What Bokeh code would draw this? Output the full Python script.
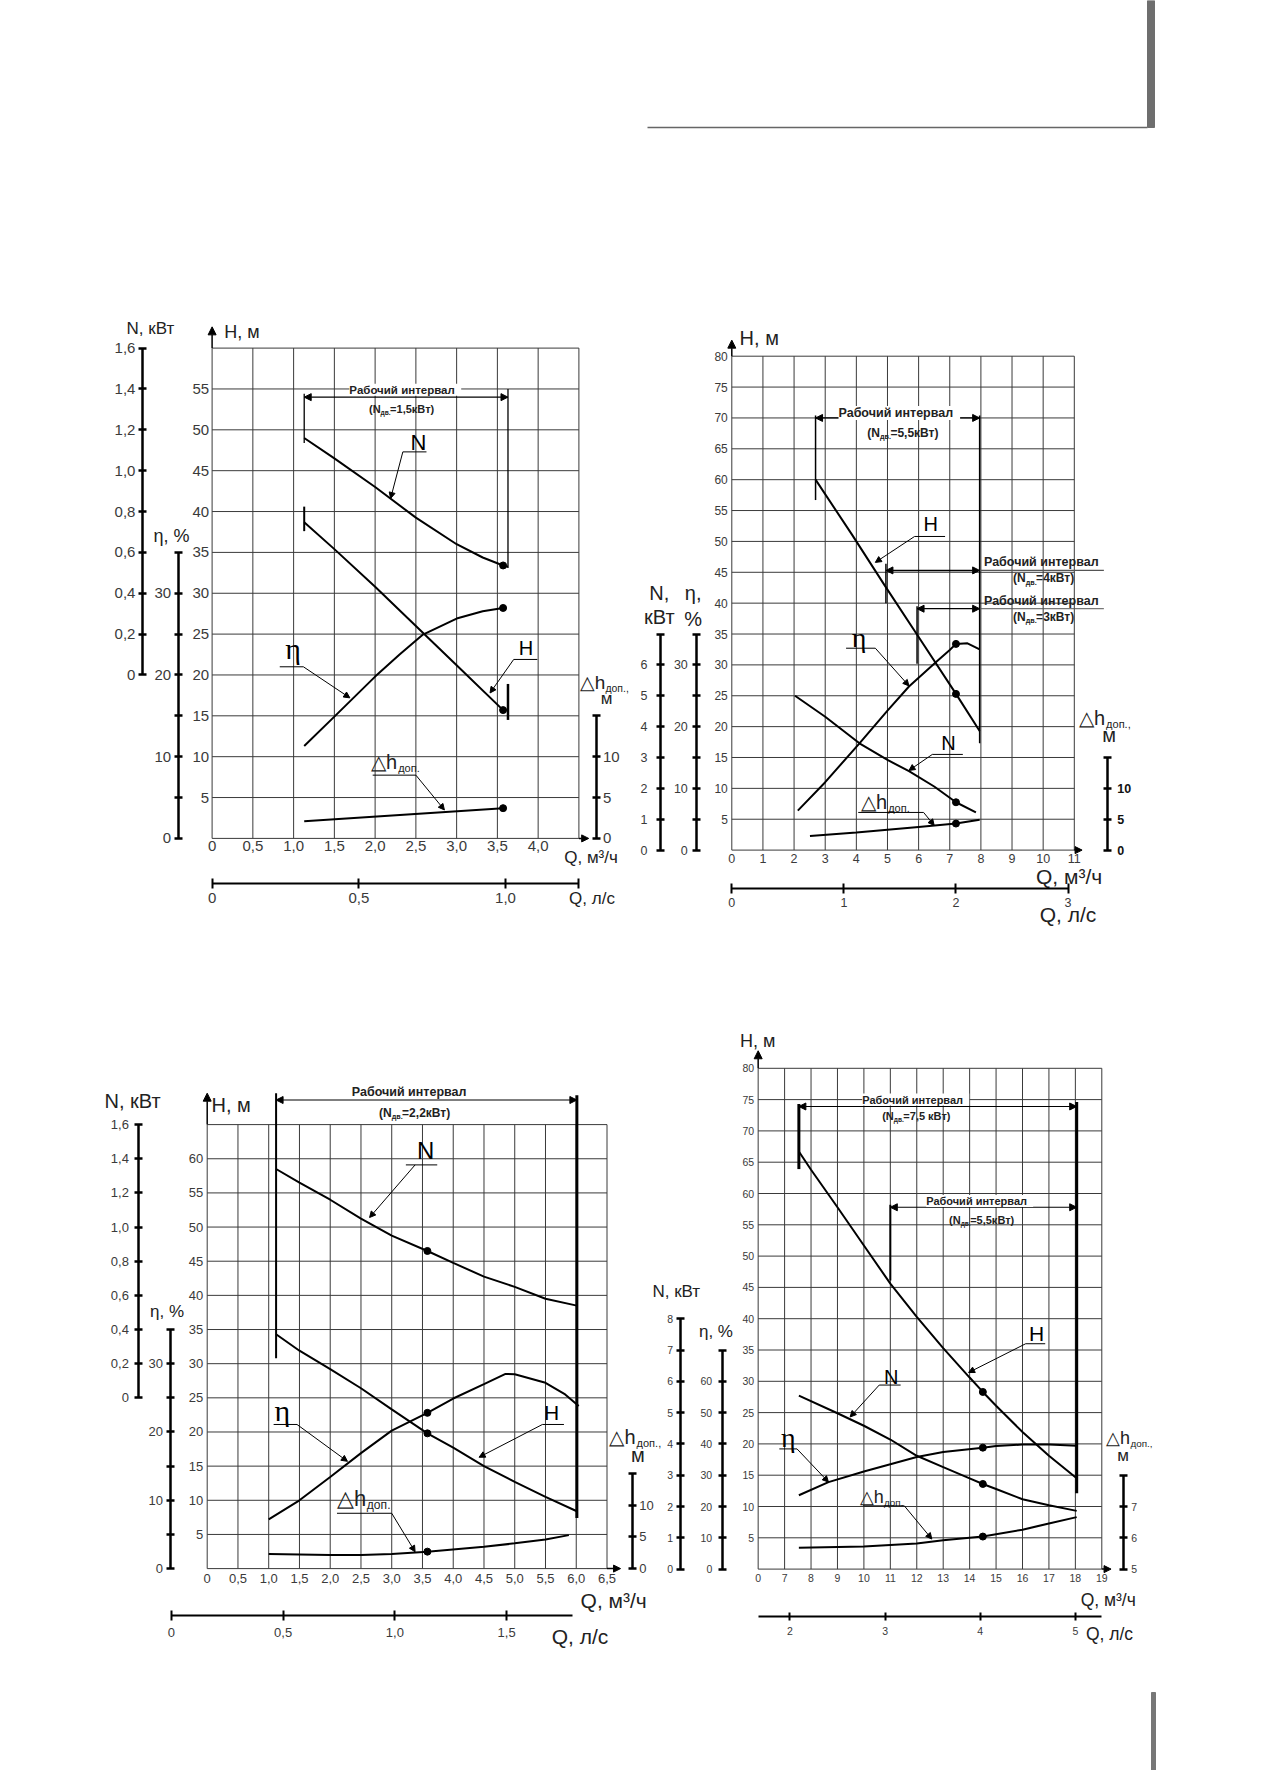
import json
from bokeh.plotting import figure
from bokeh.models import (Range1d, LinearAxis, FixedTicker, CustomJSTickFormatter,
                          Arrow, NormalHead, Label, Grid)
from bokeh.core.properties import value
from bokeh.embed import file_html
from bokeh.resources import INLINE

# ---------------------------------------------------------------- data
# Panel 1 (N дв = 1,5 кВт)
P1_Q_N = [1.13, 1.5, 2.0, 2.5, 3.0, 3.32, 3.57, 3.63]
P1_N = [1.16, 1.06, 0.92, 0.77, 0.64, 0.575, 0.536, 0.53]
P1_Q_H = [1.13, 1.5, 2.0, 2.5, 3.0, 3.57]
P1_H = [38.7, 35.4, 30.8, 26.0, 21.2, 15.7]
P1_Q_ETA = [1.13, 1.5, 2.0, 2.3, 2.58, 3.0, 3.32, 3.57]
P1_ETA = [11.3, 14.9, 19.8, 22.5, 24.9, 26.9, 27.8, 28.2]
P1_Q_DH = [1.13, 2.35, 3.57]
P1_DH = [2.1, 2.9, 3.7]
P1_Q_OPT = 3.57
P1_GRID_Q = [0, 0.5, 1.0, 1.5, 2.0, 2.5, 3.0, 3.5, 4.0, 4.5]
P1_GRID_H = [0, 5, 10, 15, 20, 25, 30, 35, 40, 45, 50, 55, 60]
P1_H_TICKS = [5, 10, 15, 20, 25, 30, 35, 40, 45, 50, 55]
P1_H_LABELS = ["5", "10", "15", "20", "25", "30", "35", "40", "45", "50", "55"]
P1_Q_TICKS = [0, 0.5, 1.0, 1.5, 2.0, 2.5, 3.0, 3.5, 4.0]
P1_Q_LABELS = ["0", "0,5", "1,0", "1,5", "2,0", "2,5", "3,0", "3,5", "4,0"]
P1_N_TICKS = [0, 0.2, 0.4, 0.6, 0.8, 1.0, 1.2, 1.4, 1.6]
P1_N_LABELS = ["0", "0,2", "0,4", "0,6", "0,8", "1,0", "1,2", "1,4", "1,6"]
P1_E_TICKS = [0, 5, 10, 15, 20, 25, 30, 35]
P1_E_LABELS = ["0", "", "10", "", "20", "", "30", ""]
P1_D_TICKS = [0, 5, 10, 15]
P1_D_LABELS = ["0", "5", "10", ""]
P1_L_TICKS = [0, 0.5, 1.0, 1.25]
P1_L_LABELS = ["0", "0,5", "1,0", ""]

# Panel 2 (N дв = 5,5 / 4 / 3 кВт)
P2_Q_H = [2.69, 3.86, 4.92, 5.99, 7.2, 7.96]
P2_H = [60.0, 51.1, 42.8, 34.6, 25.3, 19.3]
P2_Q_ETA = [2.12, 3.0, 4.1, 5.0, 5.69, 6.57, 7.0, 7.2, 7.57, 7.96]
P2_ETA = [6.4, 11.0, 17.3, 22.6, 26.5, 30.5, 32.4, 33.4, 33.5, 32.5]
P2_Q_N = [2.03, 3.0, 4.1, 5.0, 5.69, 6.5, 7.2, 7.84]
P2_N = [5.0, 4.32, 3.46, 2.92, 2.56, 2.06, 1.55, 1.22]
P2_Q_DH = [2.51, 4.0, 6.0, 7.2, 7.96]
P2_DH = [2.3, 2.85, 3.75, 4.3, 4.9]
P2_Q_OPT = 7.2
P2_GRID_Q = [0, 1, 2, 3, 4, 5, 6, 7, 8, 9, 10, 11]
P2_GRID_H = [0, 5, 10, 15, 20, 25, 30, 35, 40, 45, 50, 55, 60, 65, 70, 75, 80]
P2_H_TICKS = [5, 10, 15, 20, 25, 30, 35, 40, 45, 50, 55, 60, 65, 70, 75, 80]
P2_H_LABELS = [str(v) for v in P2_H_TICKS]
P2_Q_TICKS = [0, 1, 2, 3, 4, 5, 6, 7, 8, 9, 10, 11]
P2_Q_LABELS = [str(v) for v in P2_Q_TICKS]
P2_N_TICKS = [0, 1, 2, 3, 4, 5, 6, 7]
P2_N_LABELS = ["0", "1", "2", "3", "4", "5", "6", ""]
P2_E_TICKS = [0, 5, 10, 15, 20, 25, 30, 35]
P2_E_LABELS = ["0", "", "10", "", "20", "", "30", ""]
P2_D_TICKS = [0, 5, 10, 15]
P2_D_LABELS = ["0", "5", "10", ""]
P2_L_TICKS = [0, 1, 2, 3]
P2_L_LABELS = ["0", "1", "2", "3"]

# Panel 3 (N дв = 2,2 кВт)
P3_Q_N = [1.12, 1.5, 2.0, 2.5, 3.0, 3.58, 4.0, 4.5, 5.0, 5.5, 6.01]
P3_N = [1.34, 1.26, 1.16, 1.05, 0.95, 0.86, 0.79, 0.71, 0.65, 0.58, 0.54]
P3_Q_ETA = [1.0, 1.5, 2.0, 2.5, 3.0, 3.58, 4.0, 4.5, 4.85, 5.0, 5.5, 5.82, 6.04]
P3_ETA = [7.2, 10.0, 13.4, 16.9, 20.2, 22.8, 24.9, 27.0, 28.5, 28.45, 27.2, 25.5, 23.8]
P3_Q_H = [1.12, 1.5, 2.0, 2.5, 3.0, 3.58, 4.0, 4.5, 5.0, 5.5, 6.01]
P3_H = [34.3, 31.9, 29.2, 26.4, 23.3, 19.8, 17.7, 15.0, 12.7, 10.5, 8.4]
P3_Q_DH = [1.0, 2.0, 2.5, 3.0, 3.58, 4.5, 5.0, 5.5, 5.88]
P3_DH = [2.31, 2.14, 2.16, 2.32, 2.68, 3.45, 3.99, 4.59, 5.29]
P3_Q_OPT = 3.58
P3_GRID_Q = [0, 0.5, 1.0, 1.5, 2.0, 2.5, 3.0, 3.5, 4.0, 4.5, 5.0, 5.5, 6.0, 6.5]
P3_GRID_H = [0, 5, 10, 15, 20, 25, 30, 35, 40, 45, 50, 55, 60, 65]
P3_H_TICKS = [5, 10, 15, 20, 25, 30, 35, 40, 45, 50, 55, 60]
P3_H_LABELS = [str(v) for v in P3_H_TICKS]
P3_Q_TICKS = [0, 0.5, 1.0, 1.5, 2.0, 2.5, 3.0, 3.5, 4.0, 4.5, 5.0, 5.5, 6.0, 6.5]
P3_Q_LABELS = ["0", "0,5", "1,0", "1,5", "2,0", "2,5", "3,0", "3,5", "4,0", "4,5",
               "5,0", "5,5", "6,0", "6,5"]
P3_N_TICKS = [0, 0.2, 0.4, 0.6, 0.8, 1.0, 1.2, 1.4, 1.6]
P3_N_LABELS = ["0", "0,2", "0,4", "0,6", "0,8", "1,0", "1,2", "1,4", "1,6"]
P3_E_TICKS = [0, 5, 10, 15, 20, 25, 30, 35]
P3_E_LABELS = ["0", "", "10", "", "20", "", "30", ""]
P3_D_TICKS = [0, 5, 10, 15]
P3_D_LABELS = ["0", "5", "10", ""]
P3_L_TICKS = [0, 0.5, 1.0, 1.5]
P3_L_LABELS = ["0", "0,5", "1,0", "1,5"]

# Panel 4 (N дв = 7,5 / 5,5 кВт)
P4_Q_H = [7.54, 8, 9, 10, 11, 12, 13, 14, 14.5, 15, 16, 17, 18.05]
P4_H = [66.7, 63.8, 57.8, 51.7, 45.6, 40.3, 35.3, 30.6, 28.3, 26.1, 21.9, 18.1, 14.5]
P4_Q_N = [7.54, 9, 10, 11, 12, 13, 14, 14.5, 15, 16, 17, 18.05]
P4_N = [5.54, 4.98, 4.58, 4.14, 3.62, 3.26, 2.90, 2.72, 2.56, 2.23, 2.04, 1.86]
P4_Q_ETA = [7.54, 8.66, 10, 11, 12, 13, 14.5, 15, 16, 17, 18.05]
P4_ETA = [23.6, 27.8, 31.2, 33.5, 35.8, 37.4, 38.8, 39.3, 39.8, 39.8, 39.4]
P4_Q_DH = [7.54, 10, 12, 13, 14.5, 16, 17, 18.05]
P4_DH = [5.68, 5.72, 5.82, 5.92, 6.04, 6.26, 6.46, 6.66]
P4_Q_OPT = 14.5
P4_GRID_Q = [6, 7, 8, 9, 10, 11, 12, 13, 14, 15, 16, 17, 18, 19]
P4_GRID_H = [0, 5, 10, 15, 20, 25, 30, 35, 40, 45, 50, 55, 60, 65, 70, 75, 80]
P4_H_TICKS = [5, 10, 15, 20, 25, 30, 35, 40, 45, 50, 55, 60, 65, 70, 75, 80]
P4_H_LABELS = [str(v) for v in P4_H_TICKS]
P4_Q_TICKS = [6, 7, 8, 9, 10, 11, 12, 13, 14, 15, 16, 17, 18, 19]
P4_Q_LABELS = ["0", "7", "8", "9", "10", "11", "12", "13", "14", "15", "16", "17", "18", "19"]
P4_N_TICKS = [0, 1, 2, 3, 4, 5, 6, 7, 8]
P4_N_LABELS = [str(v) for v in P4_N_TICKS]
P4_E_TICKS = [0, 10, 20, 30, 40, 50, 60, 70]
P4_E_LABELS = ["0", "10", "20", "30", "40", "50", "60", ""]
P4_D_TICKS = [5, 6, 7, 8]
P4_D_LABELS = ["5", "6", "7", ""]
P4_L_TICKS = [2, 3, 4, 5]
P4_L_LABELS = ["2", "3", "4", "5"]

# ---------------------------------------------------------------- page / figure
CW, CH = 1258, 1770
PX0, PX1 = 8, 8 + CW
PY0, PY1 = 8, 8 + CH
FONT = "Liberation Sans"
SERIF = "Liberation Serif"
GRID_C = "#3a3a3a"
TICK_C = "#3a3a3a"
TITLE_C = "#222222"

p = figure(width=CW, height=CH, output_backend="svg", toolbar_location=None,
           x_range=Range1d(PX0, PX1), y_range=Range1d(PY1, PY0),
           x_axis_location=None, y_axis_location=None, min_border=0)
p.outline_line_color = None
p.background_fill_color = "white"
p.border_fill_color = "white"
p.renderers = [r for r in p.renderers if not isinstance(r, Grid)]
p.center = [r for r in p.center if not isinstance(r, Grid)]


class Panel:
    def __init__(self, key, qa, qb, ha, hb):
        (q0, X0), (q1, X1) = qa, qb
        sx = (X1 - X0) / (q1 - q0)
        (h0, Y0), (h1, Y1) = ha, hb
        sy = (Y1 - Y0) / (h1 - h0)
        self.qs = q0 + (PX0 - X0) / sx
        self.qe = q0 + (PX1 - X0) / sx
        self.hs = h0 + (PY1 - Y0) / sy
        self.he = h0 + (PY0 - Y0) / sy
        self.key = key
        self.xr = key + "x"
        self.yr = key + "y"
        p.extra_x_ranges[self.xr] = Range1d(self.qs, self.qe)
        p.extra_y_ranges[self.yr] = Range1d(self.hs, self.he)

    def yscale(self, name, a, b):
        rn = self.key + name
        p.extra_y_ranges[rn] = Range1d(a + b * self.hs, a + b * self.he)
        return rn

    def xscale(self, name, c, k):
        rn = self.key + name
        p.extra_x_ranges[rn] = Range1d((self.qs - c) / k, (self.qe - c) / k)
        return rn


def fmt(ticks, labels):
    m = {f"{t:.3f}": l for t, l in zip(ticks, labels)}
    code = ("var m = %s; var k = tick.toFixed(3); return (k in m) ? m[k] : '';"
            % json.dumps(m))
    return CustomJSTickFormatter(code=code)


def add_axis(side, xr, yr, loc, ticks, labels, bounds=None, fs=13, standoff=4,
             tin=0, tout=0, line_w=0, bold=False, color=TICK_C):
    kw = {}
    if bounds is not None:
        kw["bounds"] = bounds
    ax = LinearAxis(x_range_name=xr, y_range_name=yr, fixed_location=loc,
                    ticker=FixedTicker(ticks=ticks), formatter=fmt(ticks, labels),
                    major_tick_in=tin, major_tick_out=tout,
                    minor_tick_line_color=None, major_label_standoff=standoff,
                    major_label_text_font=FONT, major_label_text_font_size=f"{fs}px",
                    major_label_text_color=color,
                    major_label_text_font_style="bold" if bold else "normal", **kw)
    if line_w:
        ax.axis_line_width = line_w
        ax.axis_line_color = "black"
        ax.major_tick_line_width = line_w
        ax.major_tick_line_color = "black"
    else:
        ax.axis_line_color = None
    if tin == 0 and tout == 0:
        ax.major_tick_line_color = None
    p.add_layout(ax, side)


def txt(pn, x, y, s, fs, align="left", base="middle", font=FONT, bold=False,
        color=TITLE_C, xoff=0, yoff=0):
    p.text(x=[x], y=[y], text=[s], x_range_name=pn.xr, y_range_name=pn.yr,
           text_font=value(font), text_font_size=f"{fs}px", text_align=align,
           text_baseline=base, text_color=color,
           text_font_style="bold" if bold else "normal", x_offset=xoff, y_offset=yoff)


REG_W = {'△': 0.80, 'h': 0.556, 'д': 0.59, 'о': 0.556, 'п': 0.55, '.': 0.278, ',': 0.278}
BOLD_W = {'(': 0.333, ')': 0.333, 'N': 0.722, '=': 0.584, ',': 0.278, '.': 0.278,
          ' ': 0.278, 'к': 0.556, 'В': 0.722, 'т': 0.5, 'д': 0.61, 'в': 0.556}


def est(t, bold):
    tab = BOLD_W if bold else REG_W
    return sum(tab.get(ch, 0.556) for ch in t)


def rich(pn, x, y, parts, align="center", color=TITLE_C):
    ws = [est(t, b) * fs for (t, fs, b, dy) in parts]
    off = -sum(ws) / 2 if align == "center" else 0
    for (t, fs, b, dy), w in zip(parts, ws):
        txt(pn, x, y, t, fs, bold=b, color=color, xoff=off, yoff=dy)
        off += w


def motor(pn, x, y, rest, fs):
    rich(pn, x, y, [("(N", fs, True, 0), ("дв.", fs * 0.6, True, fs * 0.3),
                    (rest, fs, True, 0)])


def dh_text(pn, x, y, fs, sub="доп."):
    rich(pn, x, y, [("△h", fs, False, 0), (sub, fs * 0.55, False, fs * 0.3)], align="left")


def seg(pn, x0, y0, x1, y1, lw=1.0, color="black"):
    p.segment(x0=[x0], y0=[y0], x1=[x1], y1=[y1], x_range_name=pn.xr,
              y_range_name=pn.yr, line_width=lw, line_color=color)


def arrow(pn, x0, y0, x1, y1, both=False, size=8, lw=1.2):
    kw = dict(end=NormalHead(size=size, fill_color="black", line_color="black", line_width=1))
    if both:
        kw["start"] = NormalHead(size=size, fill_color="black", line_color="black", line_width=1)
    p.add_layout(Arrow(x_start=x0, y_start=y0, x_end=x1, y_end=y1, x_range_name=pn.xr,
                       y_range_name=pn.yr, line_width=lw, line_color="black", **kw))


def blabel(pn, x, y, s, fs):
    p.add_layout(Label(x=x, y=y, x_range_name=pn.xr, y_range_name=pn.yr, text=" " + s + " ",
                       text_font=FONT, text_font_size=f"{fs}px", text_font_style="bold",
                       text_align="center", text_baseline="middle", text_color=TITLE_C,
                       background_fill_color="white"))


def grid(pn, qs, hs, lw=1.0):
    n, m = len(qs), len(hs)
    p.segment(x0=qs, y0=[hs[0]] * n, x1=qs, y1=[hs[-1]] * n, x_range_name=pn.xr,
              y_range_name=pn.yr, line_color=GRID_C, line_width=lw)
    p.segment(x0=[qs[0]] * m, y0=hs, x1=[qs[-1]] * m, y1=hs, x_range_name=pn.xr,
              y_range_name=pn.yr, line_color=GRID_C, line_width=lw)


def curve(pn, yr, xs, ys, q_opt=None, lw=2.0):
    p.line(xs, ys, x_range_name=pn.xr, y_range_name=yr, line_width=lw, line_color="black")
    if q_opt is not None:
        d = dict(zip(xs, ys))
        p.scatter(x=[q_opt], y=[d[q_opt]], x_range_name=pn.xr, y_range_name=yr,
                  size=7, color="black")


def leader(pn, label, lx, ly, fs, u0, u1, uy, a0x, a0y, a1x, a1y, font=FONT):
    txt(pn, lx, ly, label, fs, align="center", font=font, color="black")
    seg(pn, u0, uy, u1, uy, lw=1.0)
    arrow(pn, a0x, a0y, a1x, a1y, size=6, lw=1.0)


# ---------------------------------------------------------------- page decorations
p.segment(x0=[655], y0=[135], x1=[1155], y1=[135], line_color="#666666", line_width=1.5)
p.quad(left=[1155], right=[1162], top=[PY0], bottom=[135], color="#6e6e6e")
p.quad(left=[1159], right=[1163], top=[1700], bottom=[PY1], color="#777777")

# ================================================================ Panel 1
P1 = Panel("a", (0, 219.6), (4.5, 586.4), (0, 845.9), (60, 355.6))
n1 = P1.yscale("n", -0.8, 0.04)
e1 = P1.yscale("e", 0, 1)
d1 = P1.yscale("d", 0, 1)
l1 = P1.xscale("l", 0, 3.6)
grid(P1, P1_GRID_Q, P1_GRID_H)
add_axis("left", P1.xr, P1.yr, 0, P1_H_TICKS, P1_H_LABELS, fs=15, standoff=3)
add_axis("below", P1.xr, P1.yr, 0, P1_Q_TICKS, P1_Q_LABELS, fs=15, standoff=3)
add_axis("left", P1.xr, n1, -0.855, P1_N_TICKS, P1_N_LABELS, bounds=(0, 1.6), fs=15,
         standoff=3, tin=4, tout=4, line_w=2.5)
add_axis("left", P1.xr, e1, -0.416, P1_E_TICKS, P1_E_LABELS, bounds=(0, 35), fs=15,
         standoff=3, tin=4, tout=4, line_w=2.5)
add_axis("right", P1.xr, d1, 4.71, P1_D_TICKS, P1_D_LABELS, bounds=(0, 15), fs=15,
         standoff=3, tin=4, tout=4, line_w=2.5)
add_axis("below", l1, P1.yr, -5.56, P1_L_TICKS, P1_L_LABELS, bounds=(0, 1.25), fs=15,
         standoff=4, tin=5, tout=5, line_w=2)
arrow(P1, 0, 60, 0, 62.6, size=8, lw=1.5)
arrow(P1, 4.5, 0, 4.62, 0, size=7, lw=1.5)
txt(P1, -1.05, 62.4, "N, кВт", 17)
txt(P1, 0.15, 62.0, "H, м", 18)
txt(P1, -0.72, 37.0, "η, %", 18)
txt(P1, 4.32, -2.3, "Q, м³/ч", 17)
txt(P1, 4.38, -7.3, "Q, л/с", 17)
dh_text(P1, 4.51, 19.1, 19, sub="доп.,")
txt(P1, 4.84, 17.1, "м", 17, align="center")
# working interval
seg(P1, 1.13, 54.4, 1.13, 48.4, lw=1.3)
seg(P1, 1.13, 40.6, 1.13, 37.6, lw=2.0)
seg(P1, 3.63, 55.0, 3.63, 33.1, lw=1.3)
seg(P1, 3.63, 18.9, 3.63, 14.5, lw=2.5)
arrow(P1, 1.13, 54.0, 3.63, 54.0, both=True, size=7, lw=1.2)
blabel(P1, 2.37, 54.9, "Рабочий интервал", 11.5)
motor(P1, 2.33, 52.5, "=1,5кВт)", 11)
# curves
curve(P1, n1, P1_Q_N, P1_N, P1_Q_OPT)
curve(P1, P1.yr, P1_Q_H, P1_H, P1_Q_OPT)
curve(P1, e1, P1_Q_ETA, P1_ETA, P1_Q_OPT)
curve(P1, d1, P1_Q_DH, P1_DH, P1_Q_OPT)
leader(P1, "N", 2.53, 48.5, 22, 2.34, 2.63, 47.3, 2.34, 47.3, 2.19, 41.6)
leader(P1, "H", 3.85, 23.3, 20, 3.70, 3.99, 21.9, 3.70, 21.9, 3.41, 17.8)
leader(P1, "η", 0.995, 23.3, 30, 0.83, 1.12, 21.0, 1.12, 21.0, 1.69, 17.2, font=SERIF)
dh_text(P1, 1.95, 9.3, 20)
seg(P1, 1.97, 7.74, 2.50, 7.74)
arrow(P1, 2.50, 7.74, 2.85, 3.48, size=6, lw=1.0)

# ================================================================ Panel 2
P2 = Panel("b", (0, 739.3), (11, 1081.8), (0, 857.6), (80, 363.7))
n2 = P2.yscale("n", 0, 0.2)
e2 = P2.yscale("e", 0, 1)
d2 = P2.yscale("d", 0, 1)
l2 = P2.xscale("l", 0, 3.6)
grid(P2, P2_GRID_Q, P2_GRID_H)
add_axis("left", P2.xr, P2.yr, 0, P2_H_TICKS, P2_H_LABELS, fs=12, standoff=4)
add_axis("below", P2.xr, P2.yr, 0, P2_Q_TICKS, P2_Q_LABELS, fs=12.5, standoff=4)
add_axis("left", P2.xr, n2, -2.29, P2_N_TICKS, P2_N_LABELS, bounds=(0, 7), fs=12.5,
         standoff=9, tin=4, tout=4, line_w=2.5)
add_axis("left", P2.xr, e2, -1.124, P2_E_TICKS, P2_E_LABELS, bounds=(0, 35), fs=12.5,
         standoff=5, tin=4, tout=4, line_w=2.5)
add_axis("right", P2.xr, d2, 12.06, P2_D_TICKS, P2_D_LABELS, bounds=(0, 15), fs=12.5,
         standoff=6, tin=4, tout=4, line_w=2.5, bold=True, color="#111111")
add_axis("below", l2, P2.yr, -6.28, P2_L_TICKS, P2_L_LABELS, bounds=(0, 3), fs=12.5,
         standoff=4, tin=5, tout=5, line_w=2)
arrow(P2, 0, 80, 0, 82.6, size=8, lw=1.5)
arrow(P2, 11, 0, 11.25, 0, size=7, lw=1.5)
txt(P2, 0.25, 82.9, "H, м", 20)
txt(P2, -2.33, 41.6, "N,", 20, align="center")
txt(P2, -2.33, 37.8, "кВт", 20, align="center")
txt(P2, -1.24, 41.6, "η,", 20, align="center")
txt(P2, -1.24, 37.5, "%", 20, align="center")
dh_text(P2, 11.15, 21.4, 20, sub="доп.,")
txt(P2, 12.12, 18.6, "м", 20, align="center")
txt(P2, 9.77, -4.2, "Q, м³/ч", 21)
txt(P2, 9.89, -10.4, "Q, л/с", 21)
# working intervals
seg(P2, 2.69, 70.4, 2.69, 56.7, lw=1.5)
seg(P2, 7.96, 70.4, 7.96, 17.3, lw=1.5)
arrow(P2, 2.69, 70.0, 7.96, 70.0, both=True, size=7, lw=1.2)
blabel(P2, 5.38, 70.8, "Рабочий интервал", 12.5)
motor(P2, 5.51, 67.6, "=5,5кВт)", 12)
seg(P2, 4.95, 46.4, 4.95, 40.0, lw=1.5)
arrow(P2, 4.95, 45.3, 7.96, 45.3, both=True, size=7, lw=1.6)
seg(P2, 7.96, 45.3, 11.95, 45.3, lw=1.2, color="#555555")
txt(P2, 9.94, 46.7, "Рабочий интервал", 12.5, align="center", bold=True)
motor(P2, 10.03, 44.0, "=4кВт)", 12)
seg(P2, 5.95, 39.5, 5.95, 30.2, lw=1.5)
arrow(P2, 5.95, 39.1, 7.96, 39.1, both=True, size=7, lw=1.2)
seg(P2, 7.96, 39.1, 11.95, 39.1, lw=1.0, color="#555555")
txt(P2, 9.94, 40.4, "Рабочий интервал", 12.5, align="center", bold=True)
motor(P2, 10.03, 37.7, "=3кВт)", 12)
# curves
curve(P2, P2.yr, P2_Q_H, P2_H, P2_Q_OPT)
curve(P2, e2, P2_Q_ETA, P2_ETA, P2_Q_OPT)
curve(P2, n2, P2_Q_N, P2_N, P2_Q_OPT)
curve(P2, d2, P2_Q_DH, P2_DH, P2_Q_OPT)
leader(P2, "H", 6.39, 52.8, 20, 5.87, 6.85, 50.8, 5.87, 50.8, 4.61, 46.6)
leader(P2, "η", 4.09, 34.5, 28, 3.67, 4.61, 32.7, 4.61, 32.7, 5.69, 26.6, font=SERIF)
leader(P2, "N", 6.96, 17.4, 20, 6.44, 7.42, 15.5, 6.44, 15.5, 5.69, 12.9)
dh_text(P2, 4.15, 7.8, 20)
seg(P2, 4.06, 6.1, 6.16, 6.1)
arrow(P2, 6.16, 6.1, 6.5, 4.0, size=6, lw=1.0)

# ================================================================ Panel 3
P3 = Panel("c", (0, 214.7), (6.5, 614.5), (0, 1576.1), (65, 1132.1))
n3 = P3.yscale("n", -1.0, 0.04)
e3 = P3.yscale("e", 0, 1)
d3 = P3.yscale("d", 0, 15 / 13.9)
l3 = P3.xscale("l", -0.583, 3.634)
grid(P3, P3_GRID_Q, P3_GRID_H)
add_axis("left", P3.xr, P3.yr, 0, P3_H_TICKS, P3_H_LABELS, fs=13, standoff=4)
add_axis("below", P3.xr, P3.yr, 0, P3_Q_TICKS, P3_Q_LABELS, fs=13, standoff=5)
add_axis("left", P3.xr, n3, -1.11, P3_N_TICKS, P3_N_LABELS, bounds=(0, 1.6), fs=13,
         standoff=6, tin=4, tout=4, line_w=2.5)
add_axis("left", P3.xr, e3, -0.59, P3_E_TICKS, P3_E_LABELS, bounds=(0, 35), fs=13,
         standoff=4, tin=4, tout=4, line_w=2.5)
add_axis("right", P3.xr, d3, 6.91, P3_D_TICKS, P3_D_LABELS, bounds=(0, 15), fs=13,
         standoff=3, tin=4, tout=4, line_w=2.5)
add_axis("below", l3, P3.yr, -6.9, P3_L_TICKS, P3_L_LABELS, bounds=(0, 1.795), fs=13,
         standoff=7, tin=5, tout=5, line_w=2)
arrow(P3, 0, 65, 0, 69.6, size=8, lw=1.5)
arrow(P3, 6.5, 0, 6.72, 0, size=7, lw=1.5)
txt(P3, -1.67, 68.5, "N, кВт", 20)
txt(P3, 0.07, 67.8, "H, м", 20)
txt(P3, -0.93, 37.6, "η, %", 17)
txt(P3, 6.07, -4.6, "Q, м³/ч", 21)
txt(P3, 5.6, -9.9, "Q, л/с", 21)
dh_text(P3, 6.54, 19.3, 20, sub="доп.,")
txt(P3, 7.0, 16.6, "м", 20, align="center")
# working interval
seg(P3, 1.12, 69.6, 1.12, 30.8, lw=2.0)
seg(P3, 6.01, 69.3, 6.01, 7.4, lw=3.0)
arrow(P3, 1.12, 68.6, 6.01, 68.6, both=True, size=7, lw=1.2)
blabel(P3, 3.34, 69.8, "Рабочий интервал", 12.5)
motor(P3, 3.38, 66.7, "=2,2кВт)", 12)
# curves
curve(P3, n3, P3_Q_N, P3_N, P3_Q_OPT)
curve(P3, e3, P3_Q_ETA, P3_ETA, P3_Q_OPT)
curve(P3, P3.yr, P3_Q_H, P3_H, P3_Q_OPT)
curve(P3, d3, P3_Q_DH, P3_DH, P3_Q_OPT)
leader(P3, "N", 3.55, 61.2, 24, 3.23, 3.74, 59.1, 3.38, 59.1, 2.64, 51.4)
leader(P3, "H", 5.6, 22.9, 21, 5.45, 5.80, 21.1, 5.45, 21.1, 4.42, 16.3)
leader(P3, "η", 1.22, 23.2, 30, 1.08, 1.46, 21.1, 1.46, 21.1, 2.28, 15.7, font=SERIF)
dh_text(P3, 2.11, 10.3, 22)
seg(P3, 2.11, 8.1, 3.0, 8.1)
arrow(P3, 3.0, 8.1, 3.38, 2.46, size=6, lw=1.0)

# ================================================================ Panel 4
P4 = Panel("d", (7, 792.1), (19, 1109.3), (0, 1576.6), (80, 1075.8))
n4 = P4.yscale("n", 0, 0.2)
e4 = P4.yscale("e", 0, 2.0)
d4 = P4.yscale("d", 5, 0.2)
l4 = P4.xscale("l", 0, 3.6)
grid(P4, P4_GRID_Q, P4_GRID_H)
add_axis("left", P4.xr, P4.yr, 6, P4_H_TICKS, P4_H_LABELS, fs=10.5, standoff=4)
add_axis("below", P4.xr, P4.yr, 0, P4_Q_TICKS, P4_Q_LABELS, fs=10.5, standoff=5)
add_axis("left", P4.xr, n4, 3.08, P4_N_TICKS, P4_N_LABELS, bounds=(0, 8), fs=10.5,
         standoff=4, tin=4, tout=4, line_w=2.5)
add_axis("left", P4.xr, e4, 4.64, P4_E_TICKS, P4_E_LABELS, bounds=(0, 70), fs=10.5,
         standoff=6, tin=4, tout=4, line_w=2.5)
add_axis("right", P4.xr, d4, 19.81, P4_D_TICKS, P4_D_LABELS, bounds=(5, 8), fs=10.5,
         standoff=4, tin=4, tout=4, line_w=2.5)
add_axis("below", l4, P4.yr, -7.6, P4_L_TICKS, P4_L_LABELS, bounds=(6 / 3.6, 19 / 3.6),
         fs=10.5, standoff=6, tin=4, tout=4, line_w=2)
arrow(P4, 6, 80, 6, 82.8, size=8, lw=1.5)
arrow(P4, 19, 0, 19.35, 0, size=7, lw=1.5)
txt(P4, 5.31, 84.3, "H, м", 18)
txt(P4, 2.0, 44.4, "N, кВт", 17)
txt(P4, 3.76, 38.0, "η, %", 17)
txt(P4, 18.2, -4.9, "Q, м³/ч", 17.5)
txt(P4, 18.4, -10.4, "Q, л/с", 17.5)
dh_text(P4, 19.16, 20.9, 18, sub="доп.,")
txt(P4, 19.81, 18.1, "м", 17, align="center")
# working intervals
seg(P4, 7.54, 74.3, 7.54, 63.9, lw=3.0)
seg(P4, 18.05, 74.6, 18.05, 12.1, lw=3.0)
arrow(P4, 7.54, 73.9, 18.05, 73.9, both=True, size=7, lw=1.2)
blabel(P4, 11.96, 75.0, "Рабочий интервал", 11)
motor(P4, 12.0, 72.4, "=7,5 кВт)", 11)
seg(P4, 11.0, 58.2, 11.0, 46.1, lw=2.0)
arrow(P4, 11.0, 57.8, 18.05, 57.8, both=True, size=7, lw=1.2)
blabel(P4, 14.38, 58.8, "Рабочий интервал", 11)
motor(P4, 14.47, 55.8, "=5,5кВт)", 11)
# curves
curve(P4, P4.yr, P4_Q_H, P4_H, P4_Q_OPT)
curve(P4, n4, P4_Q_N, P4_N, P4_Q_OPT)
curve(P4, e4, P4_Q_ETA, P4_ETA, P4_Q_OPT)
curve(P4, d4, P4_Q_DH, P4_DH, P4_Q_OPT)
leader(P4, "H", 16.53, 37.7, 21, 16.12, 16.86, 36.0, 16.12, 36.0, 13.96, 31.4)
leader(P4, "N", 11.03, 30.7, 20, 10.58, 11.39, 29.4, 10.58, 29.4, 9.48, 24.3)
leader(P4, "η", 7.14, 21.1, 28, 6.8, 7.47, 19.2, 7.47, 19.2, 8.66, 13.9, font=SERIF)
dh_text(P4, 9.84, 11.5, 18)
seg(P4, 9.97, 10.1, 11.53, 10.1)
arrow(P4, 11.53, 10.1, 12.57, 4.8, size=6, lw=1.0)

open("out.html", "w").write(file_html(p, INLINE))
